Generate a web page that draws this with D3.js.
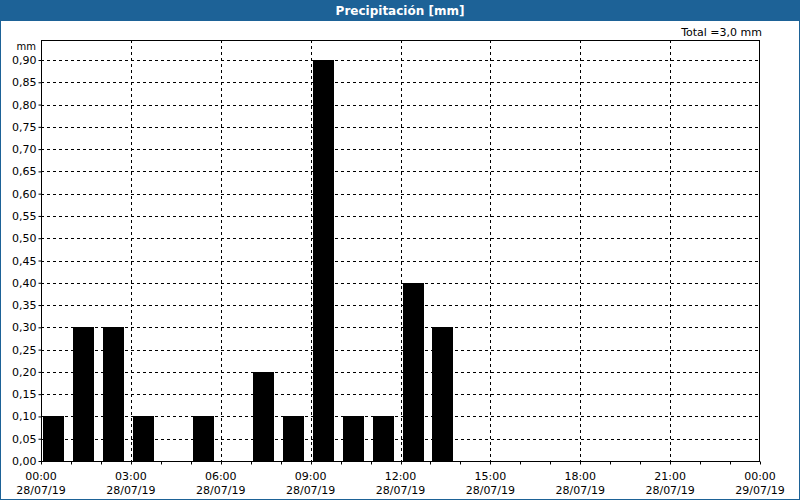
<!DOCTYPE html>
<html><head><meta charset="utf-8">
<script src="https://cdn.jsdelivr.net/npm/d3@7"></script>
<style>body{margin:0;background:#fff}svg{display:block}</style>
</head><body>
<svg id="c" width="800" height="500"></svg>
<script>
const title = "Precipitación [mm]";
const totalLabel = "Total =3,0 mm";
const unitLabel = "mm";
const hours = [0,1,2,3,4,5,6,7,8,9,10,11,12,13];
const values = [0.1,0.3,0.3,0.1,0,0.1,0,0.2,0.1,0.9,0.1,0.1,0.4,0.3];
const xTickHours = [0,3,6,9,12,15,18,21,24];
const xTimeLabels = ["00:00","03:00","06:00","09:00","12:00","15:00","18:00","21:00","00:00"];
const xDateLabels = ["28/07/19","28/07/19","28/07/19","28/07/19","28/07/19","28/07/19","28/07/19","28/07/19","29/07/19"];
const yTicks = d3.range(0, 0.901, 0.05);

const svg = d3.select("#c");
const font = "Tahoma, 'DejaVu Sans', sans-serif";
const blue = "#1d6297";

const L = 41, R = 760, T = 40, B = 461;
const x = d3.scaleLinear().domain([0,24]).range([L,R]);
const y = d3.scaleLinear().domain([0,0.9]).range([B,60]);

// frame
svg.append("rect").attr("x",0.5).attr("y",0.5).attr("width",799).attr("height",499).attr("fill","#fff").attr("stroke",blue);
svg.append("rect").attr("x",0).attr("y",0).attr("width",800).attr("height",21).attr("fill",blue);
svg.append("text").attr("x",400).attr("y",15).attr("text-anchor","middle").attr("fill","#fff")
  .attr("font-family",font).attr("font-size",12).attr("font-weight","bold").text(title);
svg.append("text").attr("x",762).attr("y",36).attr("text-anchor","end").attr("fill","#000")
  .attr("font-family",font).attr("font-size",11).text(totalLabel);
svg.append("text").attr("x",36).attr("y",50).attr("text-anchor","end").attr("fill","#000")
  .attr("font-family",font).attr("font-size",10).text(unitLabel);

// grid
const g = svg.append("g");
g.selectAll(".hg").data(yTicks.filter(v=>v>0)).join("line")
  .attr("x1",L).attr("x2",R).attr("y1",d=>Math.round(y(d))+0.5).attr("y2",d=>Math.round(y(d))+0.5)
  .attr("stroke","#000").attr("stroke-dasharray","3,3");
g.selectAll(".vg").data(xTickHours.filter(h=>h>0&&h<24)).join("line")
  .attr("y1",T).attr("y2",B).attr("x1",d=>Math.round(x(d))+0.5).attr("x2",d=>Math.round(x(d))+0.5)
  .attr("stroke","#000").attr("stroke-dasharray","3,3");

// bars
svg.append("g").selectAll("rect").data(hours.map((h,i)=>({h,v:values[i]})).filter(d=>d.v>0)).join("rect")
  .attr("x",d=>Math.round(x(d.h))+2).attr("width",21)
  .attr("y",d=>Math.round(y(d.v))).attr("height",d=>B-Math.round(y(d.v)))
  .attr("fill","#000");

// border
svg.append("rect").attr("x",L+0.5).attr("y",T+0.5).attr("width",R-L-1).attr("height",B-T).attr("fill","none").attr("stroke","#000");

// y axis labels
const yAxis = d3.axisLeft(y).tickValues(yTicks).tickSize(3).tickFormat(d=>d3.format(".2f")(d).replace(".",","));
const ya = svg.append("g").attr("transform",`translate(${L+0.5},0)`).call(yAxis);
ya.select(".domain").remove();
ya.selectAll("text").attr("font-family",font).attr("font-size",11).attr("fill","#000").attr("x",-5);

// x axis: hourly ticks
const xa = svg.append("g").attr("transform",`translate(0,${B+0.5})`);
xa.selectAll("line").data(d3.range(0,25)).join("line")
  .attr("x1",d=>Math.round(x(d))+0.5).attr("x2",d=>Math.round(x(d))+0.5).attr("y1",0).attr("y2",3).attr("stroke","#000");
xa.selectAll("text.t").data(xTickHours).join("text").attr("class","t")
  .attr("x",d=>x(d)).attr("y",18).attr("text-anchor","middle").attr("font-family",font).attr("font-size",11)
  .text((d,i)=>xTimeLabels[i]);
xa.selectAll("text.d").data(xTickHours).join("text").attr("class","d")
  .attr("x",d=>x(d)).attr("y",32).attr("text-anchor","middle").attr("font-family",font).attr("font-size",11)
  .text((d,i)=>xDateLabels[i]);
</script>
</body></html>
